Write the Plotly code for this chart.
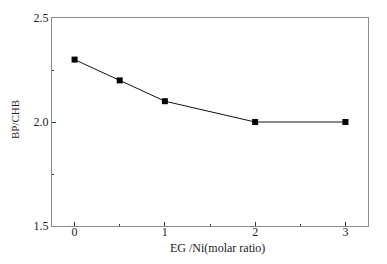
import plotly.graph_objects as go

eg_ni = [0, 0.5, 1, 2, 3]
bp_chb = [2.3, 2.2, 2.1, 2.0, 2.0]
x_ticks = [0, 1, 2, 3]
y_ticks = [1.5, 2.0, 2.5]
y_tick_text = ["1.5", "2.0", "2.5"]
x_title = "EG /Ni(molar ratio)"
y_title = "BP/CHB"

family = "'Liberation Serif', 'Times New Roman', serif"
tick_font = dict(family=family, size=12, color="#222")
xtitle_font = dict(family=family, size=12, color="#222")
ytitle_font = dict(family=family, size=11, color="#222")

fig = go.Figure()
fig.add_trace(go.Scatter(
    x=eg_ni, y=bp_chb, mode="lines+markers",
    line=dict(color="#111", width=1),
    marker=dict(symbol="square", size=6, color="#000"),
    showlegend=False,
))

axis_common = dict(
    showline=True, linecolor="#8a8a8a", linewidth=1, mirror=True,
    showgrid=False, zeroline=False,
    ticks="inside", ticklen=4, tickcolor="#333", tickwidth=1,
    tickfont=tick_font, automargin=False,
)

# page body has an 8px default margin on every side; size the figure so the
# page does not overflow the 387x264 window
fig.update_layout(
    width=371, height=248,
    margin=dict(l=44, r=11, t=10, b=30),
    paper_bgcolor="white", plot_bgcolor="white",
    font=tick_font,
    xaxis=dict(
        range=[-0.25, 3.25], tickvals=x_ticks, ticktext=[str(v) for v in x_ticks],
        minor=dict(tickvals=[0.5, 1.5, 2.5], ticks="inside", ticklen=2, tickcolor="#333"),
        ticklabelstandoff=-5,
        **axis_common,
    ),
    yaxis=dict(
        range=[1.5, 2.5], tickvals=y_ticks, ticktext=y_tick_text,
        minor=dict(tickvals=[1.75, 2.25], ticks="inside", ticklen=2, tickcolor="#333"),
        **axis_common,
    ),
    annotations=[
        dict(text=x_title, xref="paper", yref="paper", x=0.5, y=0,
             xanchor="center", yanchor="middle", xshift=7, yshift=-22,
             borderpad=0, showarrow=False, font=xtitle_font),
        dict(text=y_title, xref="paper", yref="paper", x=0, y=0.5,
             xanchor="center", yanchor="middle", xshift=-37, yshift=2,
             textangle=-90, showarrow=False, font=ytitle_font),
    ],
)

fig.write_html("out.html")
